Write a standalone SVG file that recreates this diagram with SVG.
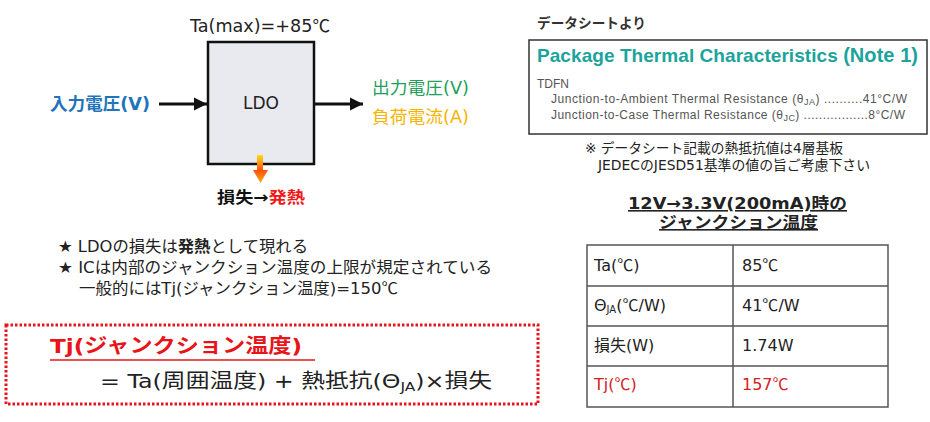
<svg xmlns="http://www.w3.org/2000/svg" width="930" height="422" viewBox="0 0 930 422">
<defs>
<style>
text{font-family:"DejaVu Sans","Noto Sans CJK JP",sans-serif;}
.c{font-family:"Noto Sans CJK JP",sans-serif;}
.ar{font-family:"Liberation Sans","Noto Sans CJK JP",sans-serif;}
.b{font-weight:bold;}
.dk{fill:#222;}
.conn{stroke:#111;stroke-width:3;fill:none;}
.tbl{stroke:#555;stroke-width:1.5;fill:none;}
.cell{font-size:16px;fill:#222;}
.red{fill:#d42020;}
</style>
<marker id="ah" viewBox="0 0 10 10" refX="10" refY="5" markerWidth="4.5" markerHeight="4.5" markerUnits="strokeWidth" orient="auto">
<path d="M0,0 L10,5 L0,10 Z" fill="#111"/>
</marker>
<linearGradient id="heat" x1="0" y1="155" x2="0" y2="183" gradientUnits="userSpaceOnUse">
<stop offset="0" stop-color="#ffe010"/>
<stop offset="0.55" stop-color="#ff5010"/>
<stop offset="1" stop-color="#ffb010"/>
</linearGradient>
</defs>
<rect width="930" height="422" fill="#fff"/>

<g id="ldo">
<rect x="208" y="42" width="106" height="122" fill="#e9eaef" stroke="#111" stroke-width="2.5"/>
<text x="261" y="109" font-size="17" text-anchor="middle" class="dk">LDO</text>
</g>
<g id="ta-max">
<text x="190" y="32" font-size="17" class="dk" textLength="140" lengthAdjust="spacingAndGlyphs">Ta(max)=+85<tspan class="c">℃</tspan></text>
</g>
<g id="input">
<text x="50" y="110" font-size="17" class="b" fill="#1f74bb" textLength="100" lengthAdjust="spacingAndGlyphs">入力電圧(V)</text>
</g>
<g id="output">
<text x="372" y="94" font-size="17" fill="#22a05a" textLength="97" lengthAdjust="spacingAndGlyphs">出力電圧(V)</text>
<text x="372" y="123" font-size="17" fill="#f6b400" textLength="97" lengthAdjust="spacingAndGlyphs">負荷電流(A)</text>
</g>
<g id="loss">
<path d="M257,155 L263,155 L263,170 L268,170 L260.5,183 L253,170 L257,170 Z" fill="url(#heat)"/>
<text x="217" y="203" font-size="16" class="b" textLength="88" lengthAdjust="spacingAndGlyphs"><tspan fill="#111">損失→</tspan><tspan fill="#f01818">発熱</tspan></text>
</g>
<g id="connectors">
<line class="conn" x1="159" y1="104" x2="207" y2="104" marker-end="url(#ah)"/>
<line class="conn" x1="315" y1="104" x2="363" y2="104" marker-end="url(#ah)"/>
</g>

<g id="datasheet">
<text x="537" y="28" font-size="14" class="b" fill="#333" textLength="109" lengthAdjust="spacingAndGlyphs">データシートより</text>
<rect x="529" y="40" width="398" height="94" fill="#fff" stroke="#333" stroke-width="1.5"/>
<text x="537" y="62" font-size="19" class="ar b" fill="#1ba39c" textLength="381">Package Thermal Characteristics <tspan font-size="20">(Note 1)</tspan></text>
<text x="537" y="88" font-size="12" class="ar" fill="#555">TDFN</text>
<text x="551" y="103" font-size="12" class="ar" fill="#555" textLength="356">Junction-to-Ambient Thermal Resistance (θ<tspan font-size="9" dy="2">JA</tspan><tspan dy="-2">) ..........41°C/W</tspan></text>
<text x="551" y="119" font-size="12" class="ar" fill="#555" textLength="354">Junction-to-Case Thermal Resistance (θ<tspan font-size="9" dy="2">JC</tspan><tspan dy="-2">) .................8°C/W</tspan></text>
</g>
<g id="note">
<text x="585" y="153" font-size="13.5" class="dk" textLength="258" lengthAdjust="spacingAndGlyphs">※ データシート記載の熱抵抗値は4層基板</text>
<text x="598" y="170" font-size="13.5" class="dk" textLength="272" lengthAdjust="spacingAndGlyphs">JEDECのJESD51基準の値の旨ご考慮下さい</text>
</g>

<g id="table-title">
<text x="628" y="209" font-size="16" class="b dk" text-decoration="underline" textLength="219" lengthAdjust="spacingAndGlyphs">12V→3.3V(200mA)時の</text>
<text x="659" y="228" font-size="16" class="b dk" text-decoration="underline" textLength="159" lengthAdjust="spacingAndGlyphs">ジャンクション温度</text>
</g>
<g id="table">
<rect class="tbl" x="587" y="245" width="301" height="162"/>
<line class="tbl" x1="733" y1="245" x2="733" y2="407"/>
<line class="tbl" x1="587" y1="286" x2="888" y2="286"/>
<line class="tbl" x1="587" y1="326" x2="888" y2="326"/>
<line class="tbl" x1="587" y1="366" x2="888" y2="366"/>
<text class="cell" x="594" y="271">Ta(<tspan class="c">℃</tspan>)</text>
<text class="cell" x="742" y="271">85<tspan class="c">℃</tspan></text>
<text class="cell" x="594" y="311">Θ<tspan font-size="10" dy="2">JA</tspan><tspan dy="-2">(</tspan><tspan class="c">℃</tspan>/W)</text>
<text class="cell" x="742" y="311">41<tspan class="c">℃</tspan>/W</text>
<text class="cell" x="594" y="351">損失(W)</text>
<text class="cell" x="742" y="351">1.74W</text>
<text class="cell red" x="594" y="390">Tj(<tspan class="c">℃</tspan>)</text>
<text class="cell red" x="742" y="390">157<tspan class="c">℃</tspan></text>
</g>

<g id="bullets">
<text x="58" y="252" font-size="16" class="dk" textLength="250" lengthAdjust="spacingAndGlyphs">★ LDOの損失は<tspan class="b">発熱</tspan>として現れる</text>
<text x="58" y="273" font-size="16" class="dk" textLength="434" lengthAdjust="spacingAndGlyphs">★ ICは内部のジャンクション温度の上限が規定されている</text>
<text x="79" y="294" font-size="16" class="dk" textLength="319" lengthAdjust="spacingAndGlyphs">一般的にはTj(ジャンクション温度)=150<tspan class="c">℃</tspan></text>
</g>

<g id="formula">
<rect x="6" y="325" width="532" height="79" fill="none" stroke="#e8141a" stroke-width="3" stroke-dasharray="2.5 2"/>
<text x="50" y="353" font-size="20" class="b" fill="#e8141a" textLength="252" lengthAdjust="spacingAndGlyphs">Tj(ジャンクション温度)</text>
<line x1="50" y1="360" x2="315" y2="360" stroke="#e8141a" stroke-width="1.5"/>
<text x="100" y="388" font-size="20" class="dk" textLength="392" lengthAdjust="spacingAndGlyphs">= Ta(周囲温度) + 熱抵抗(Θ<tspan font-size="13" dy="3">JA</tspan><tspan dy="-3">)×損失</tspan></text>
</g>
</svg>
